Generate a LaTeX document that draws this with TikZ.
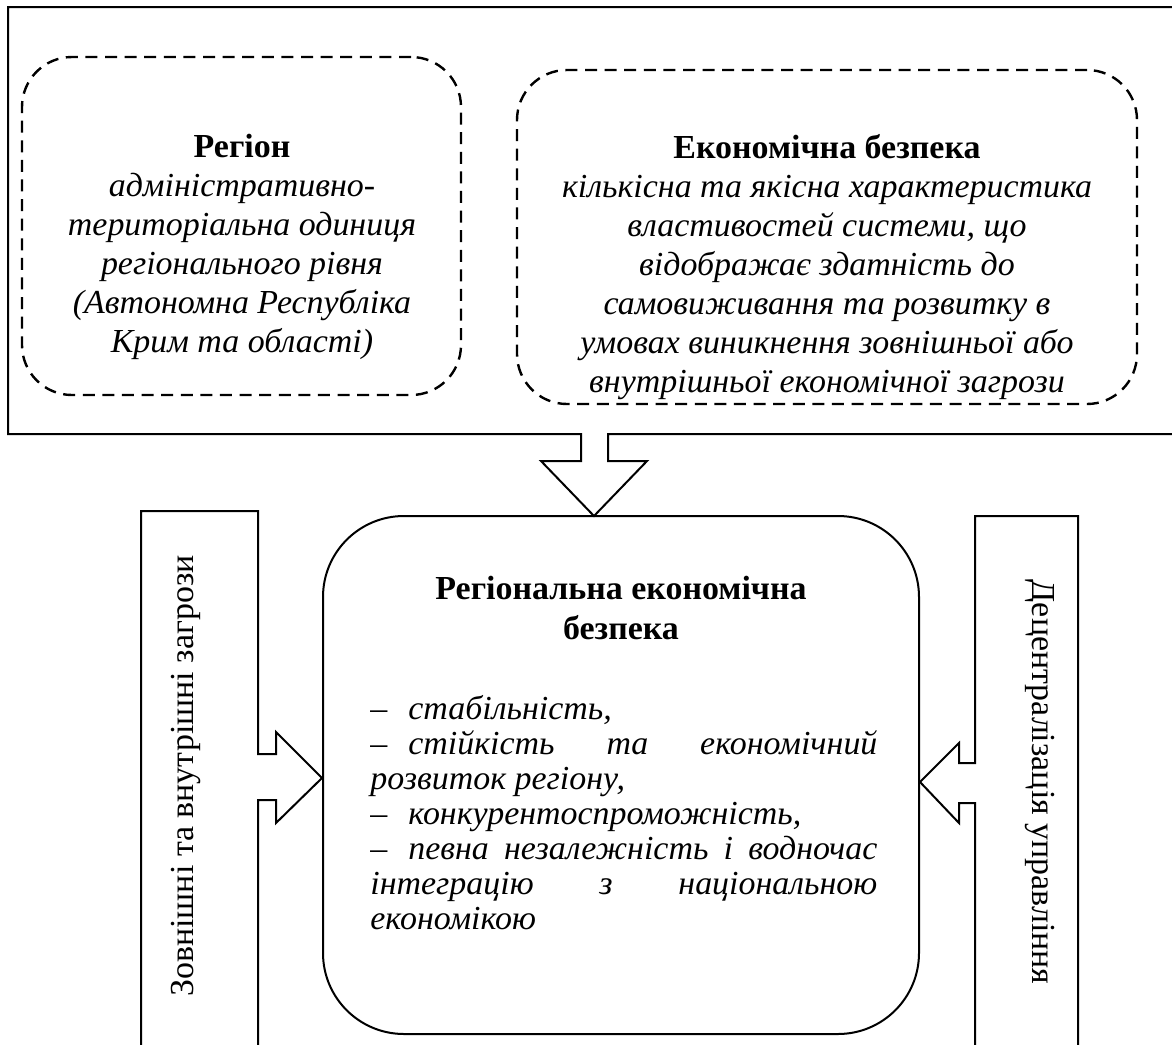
\documentclass[tikz,border=0pt]{standalone}
\usepackage{fontspec}
\setmainfont{Liberation Serif}[FakeStretch=1.01]
\usepackage{tikz}
\usetikzlibrary{positioning}

\newcommand{\listdash}{\makebox[19pt][l]{--}}

\tikzset{
    dashbox/.style={draw, dashed, line width=1.2pt, dash pattern=on 6pt off 3.8pt,
        rounded corners=25pt},
    boxtext/.style={align=center, inner sep=0pt,
        font=\fontsize{16.8}{19.5}\selectfont},
    sidetext/.style={inner sep=0pt, font=\fontsize{16.8}{19.5}\selectfont},
    solid line/.style={line width=1pt, line join=miter}
}

\begin{document}
\begin{tikzpicture}[x=0.5pt, y=-0.5pt]
    \clip (0,0) rectangle (1172,1044);
    \fill[white] (0,0) rectangle (1172,1044);
    %Boxes
    \begin{scope}[every node/.style={dashbox}]
        \node(region)[minimum width=219.5pt, minimum height=169pt] at (241.5,226) {};
        \node(security)[minimum width=310pt, minimum height=167pt] at (827,237) {};
    \end{scope}
    \node(regtext)[boxtext, anchor=north] at (242,134)
        {\textbf{Регіон}\\ \itshape адміністративно-\\ \itshape територіальна одиниця\\
         \itshape регіонального рівня\\ \itshape (Автономна Республіка\\ \itshape Крим та області)};
    \node(sectext)[boxtext, anchor=north] at (827,134)
        {\textbf{Економічна безпека}\\ \itshape кількісна та якісна характеристика\\
         \itshape властивостей системи, що\\ \itshape відображає здатність до\\
         \itshape самовиживання та розвитку в\\ \itshape умовах виникнення зовнішньої або\\
         \itshape внутрішньої економічної загрози};
    \node(regsec)[draw, line width=1pt, rounded corners=40.5pt,
        minimum width=298pt, minimum height=259pt] at (621,775) {};
    \node(regtitle)[boxtext, font=\fontsize{16.8}{20}\selectfont\bfseries] at (621,608)
        {Регіональна економічна\\безпека};
    \node(reglist)[boxtext, anchor=north west, align=justify, text width=253.5pt,
        font=\fontsize{16.8}{17.5}\selectfont\itshape] at (370,695)
        {\listdash стабільність,\\
         \listdash стійкість та економічний\linebreak
         розвиток регіону,\\
         \listdash конкурентоспроможність,\\
         \listdash певна незалежність і водночас\linebreak
         інтеграцію з національною\linebreak
         економікою};
    \node(threats)[sidetext, rotate=90] at (186,776) {Зовнішні та внутрішні загрози};
    \node(decentr)[sidetext, rotate=-90] at (1040,782) {Децентралізація управління};
    %Lines
    \begin{scope}[solid line]
        \draw (1180,434) -- (608,434) -- (608,461) -- (647,461) -- (594,516)
            -- (541,461) -- (581,461) -- (581,434) -- (8,434) -- (8,7) -- (1180,7);
        \draw (141,1060) -- (141,511) -- (258,511) -- (258,754) -- (276,754) -- (276,732)
            -- (regsec.west |- 0,778) -- (276,823) -- (276,800) -- (258,800) -- (258,1060);
        \draw (1078,1060) -- (1078,516) -- (975,516) -- (975,763) -- (959,763) -- (959,743)
            -- (regsec.east |- 0,782) -- (959,823) -- (959,803) -- (975,803) -- (975,1060);
    \end{scope}
\end{tikzpicture}
\end{document}
